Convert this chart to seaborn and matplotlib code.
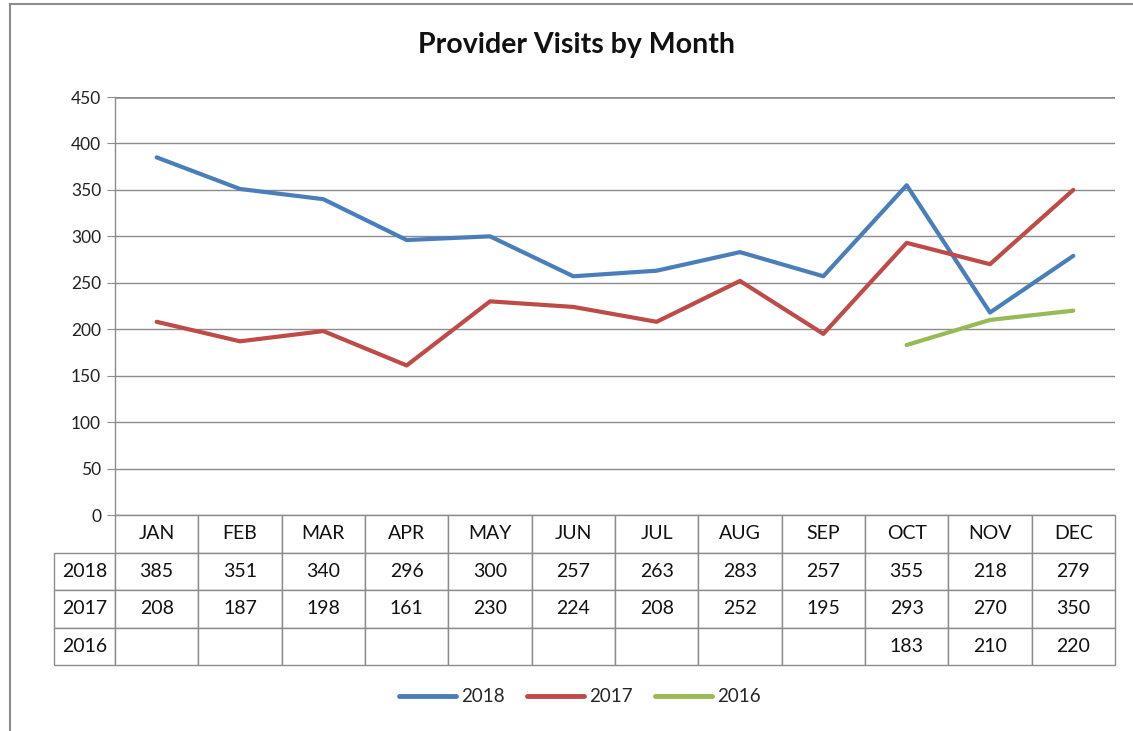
import pandas as pd
import numpy as np
import matplotlib
matplotlib.use('Agg')
import matplotlib.pyplot as plt
import seaborn as sns
from matplotlib.lines import Line2D

months = ['JAN', 'FEB', 'MAR', 'APR', 'MAY', 'JUN', 'JUL', 'AUG', 'SEP', 'OCT', 'NOV', 'DEC']
visits_2018 = [385, 351, 340, 296, 300, 257, 263, 283, 257, 355, 218, 279]
visits_2017 = [208, 187, 198, 161, 230, 224, 208, 252, 195, 293, 270, 350]
visits_2016 = [None, None, None, None, None, None, None, None, None, 183, 210, 220]
years = ['2018', '2017', '2016']
colors = {'2018': '#4A7EBB', '2017': '#BE4B48', '2016': '#98B954'}

df = pd.DataFrame({
    'month': months * 3,
    'year': ['2018'] * 12 + ['2017'] * 12 + ['2016'] * 12,
    'visits': visits_2018 + visits_2017 + visits_2016,
})
df['visits'] = pd.to_numeric(df['visits'], errors='coerce')

sns.set_style('white')
plt.rcParams['font.family'] = ['Lato', 'DejaVu Sans']

fig = plt.figure(figsize=(11.33, 7.31), dpi=100)
ax = fig.add_axes([115 / 1133, 1 - 515 / 731, 1000 / 1133, 418 / 731])

sns.lineplot(data=df.dropna(), x='month', y='visits', hue='year', hue_order=years,
             palette=colors, linewidth=3, ax=ax, sort=False)

ax.set_xlim(-0.5, 11.5)
ax.set_ylim(0, 450)
ax.set_yticks(range(0, 451, 50))
ax.set_xticks([])
ax.set_xlabel('')
ax.set_ylabel('')
ax.grid(axis='y', color='#8c8c8c', linewidth=1)
ax.axhline(450, color='#8c8c8c', linewidth=1.8, zorder=0)
for s in ['top', 'right', 'bottom']:
    ax.spines[s].set_visible(False)
ax.spines['left'].set_color('#8c8c8c')
ax.spines['left'].set_linewidth(1)
ax.tick_params(axis='y', which='major', left=True, length=6, color='#8c8c8c',
               labelsize=12.5, labelcolor='#222222', pad=4)

# Data table below the plot
def fmt(v):
    return '' if v is None else str(v)

cell_text = [[''] + months]
for name, vals in zip(years, [visits_2018, visits_2017, visits_2016]):
    cell_text.append([name] + [fmt(v) for v in vals])

col_w = [61] + [1000 / 12] * 12
tbl = ax.table(cellText=cell_text, colWidths=col_w, cellLoc='center',
               bbox=[-0.061, -150 / 418, 1.061, 150 / 418])
tbl.auto_set_font_size(False)
tbl.set_fontsize(14)
for (r, c), cell in tbl.get_celld().items():
    cell.set_edgecolor('#8c8c8c')
    cell.set_linewidth(1)
    cell.get_text().set_color('#111111')
    if r == 0 and c == 0:
        cell.visible_edges = ''

# Legend
handles = [Line2D([0], [0], color=colors[y], linewidth=3.5) for y in years]
ax.legend(handles, years, loc='center', bbox_to_anchor=(0.465, -0.435), ncol=3,
          frameon=False, fontsize=13.5, handlelength=3.0, columnspacing=1.2,
          handletextpad=0.3)

fig.text(577 / 1133, 1 - 45 / 731, 'Provider Visits by Month', ha='center', va='center',
         fontsize=20.5, fontweight='bold', color='#111111')

# Outer chart border (top and left visible in the reference)
fig.add_artist(Line2D([10 / 1133, 1], [1 - 4 / 731, 1 - 4 / 731], color='#8c8c8c', linewidth=1.5))
fig.add_artist(Line2D([10 / 1133, 10 / 1133], [0, 1 - 4 / 731], color='#8c8c8c', linewidth=1.5))

fig.savefig('out.png', dpi=100)
